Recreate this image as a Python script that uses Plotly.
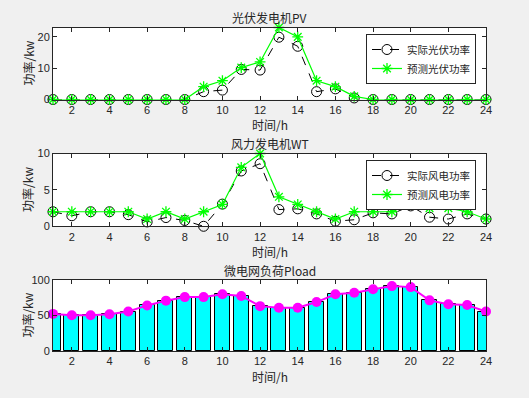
import plotly.graph_objects as go

hours = list(range(1, 25))
xticks = list(range(2, 25, 2))

pv_actual = [0, 0, 0, 0, 0, 0, 0, 0, 2.5, 3.0, 9.6, 9.4, 19.9, 17.0, 2.5, 3.4, 0.5, 0, 0, 0, 0, 0, 0, 0]
pv_pred = [0, 0, 0, 0, 0, 0, 0, 0, 4.1, 6.0, 10.2, 12.0, 23.0, 20.0, 6.0, 4.1, 1.0, 0, 0, 0, 0, 0, 0, 0]

wt_actual = [2.0, 1.45, 2.0, 2.0, 1.6, 0.6, 1.2, 0.8, 0.0, 3.05, 7.6, 8.6, 2.3, 2.4, 1.7, 0.7, 0.9, 1.85, 1.7, 2.8, 1.25, 1.0, 1.7, 1.0]
wt_pred = [2, 2, 2, 2, 2, 1, 2, 1, 2, 3, 8.1, 10, 4.05, 3, 2, 1, 2, 2, 2, 3.05, 2.5, 2.5, 2, 1]

load = [52.4, 50.5, 50.5, 52, 55.7, 64.3, 71, 76, 76, 80, 77.6, 63.3, 61, 61, 69, 80, 82, 87, 91.4, 90, 71.4, 66, 64.8, 55.7]

W, H = 529, 398
AX = "#262626"
CJK = "Noto Sans CJK SC, Liberation Sans, sans-serif"
NUM = "Liberation Sans, Arial, sans-serif"

x0, x1 = 53, 486
boxes = [(27.5, 99.5), (153.5, 226.3), (280, 351.2)]

def xd():
    return [x0 / W, x1 / W]

def yd(t, b):
    return [1 - b / H, 1 - t / H]

fig = go.Figure()

# PV
fig.add_trace(go.Scatter(x=hours, y=pv_actual, mode="lines+markers", name="实际光伏功率",
                         line=dict(color="black", width=1, dash="dash"),
                         marker=dict(symbol="circle-open", size=10, color="black", line=dict(width=1)),
                         cliponaxis=False, xaxis="x", yaxis="y", legend="legend"))
fig.add_trace(go.Scatter(x=hours, y=pv_pred, mode="lines+markers", name="预测光伏功率",
                         line=dict(color="#00ff00", width=1.2),
                         marker=dict(symbol="asterisk-open", size=9, color="#00ff00", line=dict(width=1.3, color="#00ff00")),
                         cliponaxis=False, xaxis="x", yaxis="y", legend="legend"))
# WT
fig.add_trace(go.Scatter(x=hours, y=wt_actual, mode="lines+markers", name="实际风电功率",
                         line=dict(color="black", width=1, dash="dash"),
                         marker=dict(symbol="circle-open", size=10, color="black", line=dict(width=1)),
                         cliponaxis=False, xaxis="x2", yaxis="y2", legend="legend2"))
fig.add_trace(go.Scatter(x=hours, y=wt_pred, mode="lines+markers", name="预测风电功率",
                         line=dict(color="#00ff00", width=1.2),
                         marker=dict(symbol="asterisk-open", size=9, color="#00ff00", line=dict(width=1.3, color="#00ff00")),
                         cliponaxis=False, xaxis="x2", yaxis="y2", legend="legend2"))
# Load
fig.add_trace(go.Bar(x=hours, y=load, width=0.8, marker=dict(color="#00ffff", line=dict(color="black", width=1)),
                     showlegend=False, xaxis="x3", yaxis="y3"))
fig.add_trace(go.Scatter(x=hours, y=load, mode="lines+markers", showlegend=False,
                         line=dict(color="#ff00ff", width=2),
                         marker=dict(symbol="circle", size=10, color="#ff00ff"),
                         cliponaxis=False, xaxis="x3", yaxis="y3"))

axcommon = dict(showline=True, linecolor=AX, linewidth=1, mirror="ticks", ticks="inside",
                ticklen=4, tickcolor=AX, showgrid=False, zeroline=False, automargin=False,
                tickfont=dict(family=NUM, size=11, color=AX))

layout = dict(width=W, height=H, autosize=False, margin=dict(l=0, r=0, t=0, b=0, autoexpand=False),
              paper_bgcolor="#f0f0f0", plot_bgcolor="white", bargap=0,
              font=dict(family=CJK, color=AX))

yranges = [[0, 23], [0, 10], [0, 100]]
yticks = [[0, 10, 20], [0, 5, 10], [0, 50, 100]]
for i, (t, b) in enumerate(boxes):
    s = "" if i == 0 else str(i + 1)
    layout["xaxis" + s] = dict(axcommon, domain=xd(), range=[1, 24], tickvals=xticks,
                               anchor="y" + s)
    layout["yaxis" + s] = dict(axcommon, domain=yd(t, b), range=yranges[i], tickvals=yticks[i],
                               anchor="x" + s)

titles = ["光伏发电机PV", "风力发电机WT", "微电网负荷Pload"]
ann = []
for i, (t, b) in enumerate(boxes):
    ann.append(dict(text=titles[i], x=(x0 + x1) / 2 / W, y=1 - (t - 10) / H, xref="paper", yref="paper",
                    showarrow=False, font=dict(size=12, color=AX, family=CJK), xanchor="center", yanchor="middle"))
    ann.append(dict(text="时间/h", x=(x0 + x1) / 2 / W, y=1 - (b + 25) / H, xref="paper", yref="paper",
                    showarrow=False, font=dict(size=12, color=AX, family=CJK), xanchor="center", yanchor="middle"))
    ann.append(dict(text="功率/kw", x=28 / W, y=1 - (t + b) / 2 / H, xref="paper", yref="paper",
                    showarrow=False, textangle=-90, font=dict(size=12, color=AX, family=CJK),
                    xanchor="center", yanchor="middle"))
layout["annotations"] = ann

leg = dict(bgcolor="white", bordercolor=AX, borderwidth=1, font=dict(size=10.5, family=CJK, color=AX),
           xanchor="right", yanchor="top", tracegroupgap=0, itemwidth=30)
layout["legend"] = dict(leg, x=476 / W, y=1 - 34 / H)
layout["legend2"] = dict(leg, x=476 / W, y=1 - 160 / H)

fig.update_layout(**layout)
fig.write_html("out.html", config={"responsive": False, "displayModeBar": False},
               post_script="document.body.style.margin='0';document.body.style.overflow='hidden';")
